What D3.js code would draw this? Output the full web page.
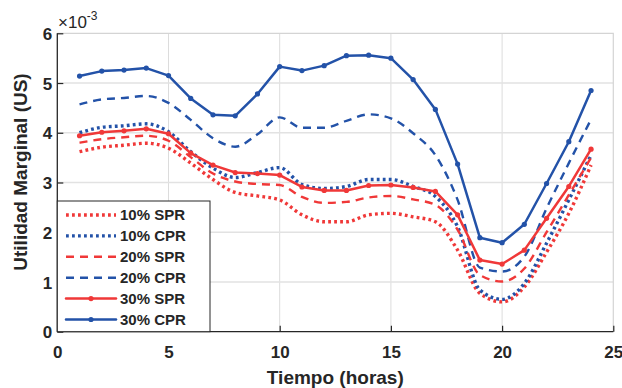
<!DOCTYPE html>
<html><head><meta charset="utf-8">
<script src="https://cdn.jsdelivr.net/npm/d3@7"></script>
<style>body{margin:0;background:#fff}svg{display:block}text{font-family:"Liberation Sans",Arial,sans-serif}</style>
</head><body>
<script>
const hours = [1,2,3,4,5,6,7,8,9,10,11,12,13,14,15,16,17,18,19,20,21,22,23,24];
const spr10 = [3.62,3.71,3.75,3.79,3.69,3.39,3.06,2.80,2.73,2.65,2.35,2.21,2.21,2.35,2.38,2.31,2.21,1.64,0.77,0.60,0.90,1.60,2.38,3.35];
const cpr10 = [4.00,4.11,4.14,4.18,4.02,3.62,3.29,3.10,3.20,3.30,2.96,2.88,2.92,3.06,3.06,2.92,2.72,2.11,0.84,0.65,0.97,1.78,2.65,3.55];
const spr20 = [3.80,3.87,3.91,3.94,3.84,3.51,3.18,3.02,2.97,2.95,2.71,2.59,2.61,2.70,2.73,2.66,2.55,2.05,1.14,1.01,1.27,2.00,2.75,3.50];
const cpr20 = [4.57,4.67,4.70,4.74,4.60,4.26,3.89,3.72,3.97,4.31,4.10,4.10,4.24,4.37,4.29,3.99,3.55,2.65,1.29,1.21,1.51,2.48,3.39,4.27];
const spr30 = [3.94,4.01,4.04,4.08,3.98,3.59,3.35,3.20,3.18,3.15,2.91,2.84,2.84,2.94,2.95,2.90,2.82,2.35,1.44,1.36,1.64,2.28,2.92,3.67];
const cpr30 = [5.14,5.24,5.26,5.30,5.15,4.69,4.36,4.34,4.78,5.33,5.25,5.35,5.55,5.56,5.50,5.07,4.47,3.37,1.89,1.79,2.16,2.98,3.82,4.85];
const seriesNames = ["10% SPR","10% CPR","20% SPR","20% CPR","30% SPR","30% CPR"];
const xTicks = [0,5,10,15,20,25];
const yTicks = [0,1,2,3,4,5,6];

const RED = "#f03838", BLUE = "#2352a8";
const styles = [
  {c:RED, dash:"2.8,3.2", w:3.4, lc:"butt", m:false},
  {c:BLUE, dash:"2.8,3.2", w:3.4, lc:"butt", m:false},
  {c:RED, dash:"8,6", w:2.4, lc:"butt", m:false},
  {c:BLUE, dash:"8,6", w:2.4, lc:"butt", m:false},
  {c:RED, dash:null, w:2.5, lc:"round", m:true},
  {c:BLUE, dash:null, w:2.5, lc:"round", m:true}
];
const allData = [spr10,cpr10,spr20,cpr20,spr30,cpr30];

const W=622,H=388;
const L=57.3,R=613.3,T=33.3,B=331.7;
const svg=d3.select("body").append("svg").attr("width",W).attr("height",H);
const x=d3.scaleLinear().domain([0,25]).range([L,R]);
const y=d3.scaleLinear().domain([0,6]).range([B,T]);

// grid
const g=svg.append("g");
g.selectAll(".vg").data(xTicks.slice(1,-1)).join("line")
  .attr("x1",d=>x(d)).attr("x2",d=>x(d)).attr("y1",T).attr("y2",B)
  .attr("stroke","#dcdcdc").attr("stroke-width",1);
g.selectAll(".hg").data(yTicks.slice(1,-1)).join("line")
  .attr("x1",L).attr("x2",R).attr("y1",d=>y(d)).attr("y2",d=>y(d))
  .attr("stroke","#e2e2e2").attr("stroke-width",1.5);
// top/right box
svg.append("path").attr("d",`M${L},${T}H${R}V${B}`).attr("fill","none").attr("stroke","#d4d4d4").attr("stroke-width",1.2);

// lines
allData.forEach((vals,i)=>{
  const s=styles[i];
  const pts=hours.map((h,j)=>[h,vals[j]]);
  const line=d3.line().x(d=>x(d[0])).y(d=>y(d[1])).curve(s.m?d3.curveLinear:d3.curveMonotoneX);
  svg.append("path").datum(pts).attr("d",line).attr("fill","none")
    .attr("stroke",s.c).attr("stroke-width",s.w).attr("stroke-dasharray",s.dash)
    .attr("stroke-linecap",s.lc).attr("stroke-linejoin","round");
  if(s.m){
    svg.append("g").selectAll("circle").data(pts).join("circle")
      .attr("cx",d=>x(d[0])).attr("cy",d=>y(d[1])).attr("r",2.6).attr("fill",s.c);
  }
});

// axes
const xa=svg.append("g").attr("transform",`translate(0,${B})`)
  .call(d3.axisBottom(x).tickValues(xTicks).tickSize(-6).tickPadding(14).tickFormat(d3.format("d")));
const ya=svg.append("g").attr("transform",`translate(${L},0)`)
  .call(d3.axisLeft(y).tickValues(yTicks).tickSize(-6).tickPadding(5).tickFormat(d3.format("d")));
[xa,ya].forEach(a=>{
  a.select(".domain").attr("stroke","#262626").attr("stroke-width",1.3);
  a.selectAll(".tick line").attr("stroke","#262626").attr("stroke-width",1.2);
  a.selectAll(".tick text").attr("fill","#262626").style("font-size","17px").style("font-weight","bold")
   .style("font-family","'Liberation Sans',Arial,sans-serif");
});
xa.select(".domain").attr("d",`M${L},0H${R}`);
ya.select(".domain").attr("d",`M0,${B}V${T}`);
ya.selectAll(".tick text").attr("dy","0.36em");

// exponent label
const ex=svg.append("text").attr("x",58).attr("y",28).attr("fill","#262626").style("font-size","17px");
ex.append("tspan").text("×10");
ex.append("tspan").attr("dy",-8).style("font-size","12px").text("-3");

// axis labels
svg.append("text").attr("x",x(12.5)).attr("y",384).attr("text-anchor","middle")
  .attr("fill","#262626").style("font-size","19px").style("font-weight","bold").text("Tiempo (horas)");
svg.append("text").attr("transform",`translate(27,172) rotate(-90)`).attr("text-anchor","middle")
  .attr("fill","#262626").style("font-size","19px").style("font-weight","bold").text("Utilidad Marginal (US)");

// legend
const lg=svg.append("g");
const lx0=L, ly0=201, lw=210-L, lh=B-201;
lg.append("rect").attr("x",lx0).attr("y",ly0).attr("width",lw).attr("height",lh)
  .attr("fill","#fff").attr("stroke","#262626").attr("stroke-width",1);
const ly=d3.scalePoint().domain(seriesNames).range([215,319.5]);
seriesNames.forEach((n,i)=>{
  const s=styles[i], yy=ly(n);
  lg.append("line").attr("x1",66).attr("x2",116).attr("y1",yy).attr("y2",yy)
    .attr("stroke",s.c).attr("stroke-width",s.w).attr("stroke-dasharray",s.dash).attr("stroke-linecap",s.lc);
  if(s.m) lg.append("circle").attr("cx",91).attr("cy",yy).attr("r",2.6).attr("fill",s.c);
  lg.append("text").attr("x",120).attr("y",yy).attr("dy","0.36em").attr("fill","#262626")
    .style("font-size","15px").style("font-weight","bold").text(n);
});
</script>
</body></html>
